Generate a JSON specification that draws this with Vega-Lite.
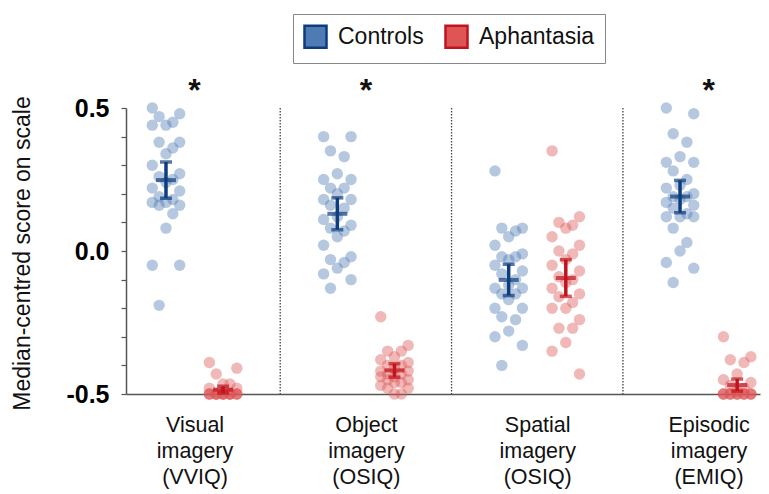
{
  "$schema": "https://vega.github.io/schema/vega-lite/v6.json",
  "width": 634,
  "height": 286,
  "autosize": "none",
  "padding": {"left": 126, "top": 108, "right": 9, "bottom": 100},
  "config": {
    "view": {"stroke": null},
    "font": "Liberation Sans",
    "axis": {"grid": false}
  },
  "resolve": {"axis": {"y": "independent"}},
  "datasets": {
    "cats": [
      {"scale": "Visual", "sig": "*"},
      {"scale": "Object", "sig": "*"},
      {"scale": "Spatial", "sig": ""},
      {"scale": "Episodic", "sig": "*"}
    ],
    "scores": [
      {"scale":"Visual","group":"Controls","score":0.50},
      {"scale":"Visual","group":"Controls","score":0.48},
      {"scale":"Visual","group":"Controls","score":0.47},
      {"scale":"Visual","group":"Controls","score":0.45},
      {"scale":"Visual","group":"Controls","score":0.44},
      {"scale":"Visual","group":"Controls","score":0.44},
      {"scale":"Visual","group":"Controls","score":0.38},
      {"scale":"Visual","group":"Controls","score":0.38},
      {"scale":"Visual","group":"Controls","score":0.36},
      {"scale":"Visual","group":"Controls","score":0.34},
      {"scale":"Visual","group":"Controls","score":0.30},
      {"scale":"Visual","group":"Controls","score":0.27},
      {"scale":"Visual","group":"Controls","score":0.26},
      {"scale":"Visual","group":"Controls","score":0.25},
      {"scale":"Visual","group":"Controls","score":0.24},
      {"scale":"Visual","group":"Controls","score":0.22},
      {"scale":"Visual","group":"Controls","score":0.21},
      {"scale":"Visual","group":"Controls","score":0.19},
      {"scale":"Visual","group":"Controls","score":0.18},
      {"scale":"Visual","group":"Controls","score":0.17},
      {"scale":"Visual","group":"Controls","score":0.17},
      {"scale":"Visual","group":"Controls","score":0.16},
      {"scale":"Visual","group":"Controls","score":0.16},
      {"scale":"Visual","group":"Controls","score":0.13},
      {"scale":"Visual","group":"Controls","score":0.08},
      {"scale":"Visual","group":"Controls","score":-0.05},
      {"scale":"Visual","group":"Controls","score":-0.05},
      {"scale":"Visual","group":"Controls","score":-0.19},
      {"scale":"Visual","group":"Aphantasia","score":-0.39},
      {"scale":"Visual","group":"Aphantasia","score":-0.41},
      {"scale":"Visual","group":"Aphantasia","score":-0.43},
      {"scale":"Visual","group":"Aphantasia","score":-0.465},
      {"scale":"Visual","group":"Aphantasia","score":-0.465},
      {"scale":"Visual","group":"Aphantasia","score":-0.48},
      {"scale":"Visual","group":"Aphantasia","score":-0.48},
      {"scale":"Visual","group":"Aphantasia","score":-0.50},
      {"scale":"Visual","group":"Aphantasia","score":-0.50},
      {"scale":"Visual","group":"Aphantasia","score":-0.50},
      {"scale":"Visual","group":"Aphantasia","score":-0.50},
      {"scale":"Visual","group":"Aphantasia","score":-0.50},
      {"scale":"Visual","group":"Aphantasia","score":-0.50},
      {"scale":"Visual","group":"Aphantasia","score":-0.50},
      {"scale":"Visual","group":"Aphantasia","score":-0.50},
      {"scale":"Visual","group":"Aphantasia","score":-0.50},
      {"scale":"Visual","group":"Aphantasia","score":-0.50},
      {"scale":"Visual","group":"Aphantasia","score":-0.50},
      {"scale":"Visual","group":"Aphantasia","score":-0.50},
      {"scale":"Visual","group":"Aphantasia","score":-0.50},
      {"scale":"Visual","group":"Aphantasia","score":-0.50},
      {"scale":"Visual","group":"Aphantasia","score":-0.50},
      {"scale":"Visual","group":"Aphantasia","score":-0.50},
      {"scale":"Visual","group":"Aphantasia","score":-0.50},
      {"scale":"Visual","group":"Aphantasia","score":-0.50},
      {"scale":"Object","group":"Controls","score":0.40},
      {"scale":"Object","group":"Controls","score":0.40},
      {"scale":"Object","group":"Controls","score":0.35},
      {"scale":"Object","group":"Controls","score":0.33},
      {"scale":"Object","group":"Controls","score":0.27},
      {"scale":"Object","group":"Controls","score":0.25},
      {"scale":"Object","group":"Controls","score":0.25},
      {"scale":"Object","group":"Controls","score":0.22},
      {"scale":"Object","group":"Controls","score":0.22},
      {"scale":"Object","group":"Controls","score":0.20},
      {"scale":"Object","group":"Controls","score":0.18},
      {"scale":"Object","group":"Controls","score":0.18},
      {"scale":"Object","group":"Controls","score":0.16},
      {"scale":"Object","group":"Controls","score":0.15},
      {"scale":"Object","group":"Controls","score":0.12},
      {"scale":"Object","group":"Controls","score":0.11},
      {"scale":"Object","group":"Controls","score":0.09},
      {"scale":"Object","group":"Controls","score":0.08},
      {"scale":"Object","group":"Controls","score":0.07},
      {"scale":"Object","group":"Controls","score":0.05},
      {"scale":"Object","group":"Controls","score":0.02},
      {"scale":"Object","group":"Controls","score":-0.02},
      {"scale":"Object","group":"Controls","score":-0.03},
      {"scale":"Object","group":"Controls","score":-0.04},
      {"scale":"Object","group":"Controls","score":-0.06},
      {"scale":"Object","group":"Controls","score":-0.08},
      {"scale":"Object","group":"Controls","score":-0.10},
      {"scale":"Object","group":"Controls","score":-0.13},
      {"scale":"Object","group":"Aphantasia","score":-0.23},
      {"scale":"Object","group":"Aphantasia","score":-0.33},
      {"scale":"Object","group":"Aphantasia","score":-0.35},
      {"scale":"Object","group":"Aphantasia","score":-0.35},
      {"scale":"Object","group":"Aphantasia","score":-0.37},
      {"scale":"Object","group":"Aphantasia","score":-0.38},
      {"scale":"Object","group":"Aphantasia","score":-0.39},
      {"scale":"Object","group":"Aphantasia","score":-0.40},
      {"scale":"Object","group":"Aphantasia","score":-0.40},
      {"scale":"Object","group":"Aphantasia","score":-0.41},
      {"scale":"Object","group":"Aphantasia","score":-0.42},
      {"scale":"Object","group":"Aphantasia","score":-0.42},
      {"scale":"Object","group":"Aphantasia","score":-0.43},
      {"scale":"Object","group":"Aphantasia","score":-0.43},
      {"scale":"Object","group":"Aphantasia","score":-0.44},
      {"scale":"Object","group":"Aphantasia","score":-0.44},
      {"scale":"Object","group":"Aphantasia","score":-0.45},
      {"scale":"Object","group":"Aphantasia","score":-0.45},
      {"scale":"Object","group":"Aphantasia","score":-0.46},
      {"scale":"Object","group":"Aphantasia","score":-0.46},
      {"scale":"Object","group":"Aphantasia","score":-0.47},
      {"scale":"Object","group":"Aphantasia","score":-0.48},
      {"scale":"Object","group":"Aphantasia","score":-0.48},
      {"scale":"Object","group":"Aphantasia","score":-0.50},
      {"scale":"Object","group":"Aphantasia","score":-0.50},
      {"scale":"Spatial","group":"Controls","score":0.28},
      {"scale":"Spatial","group":"Controls","score":0.08},
      {"scale":"Spatial","group":"Controls","score":0.08},
      {"scale":"Spatial","group":"Controls","score":0.07},
      {"scale":"Spatial","group":"Controls","score":0.05},
      {"scale":"Spatial","group":"Controls","score":0.02},
      {"scale":"Spatial","group":"Controls","score":-0.01},
      {"scale":"Spatial","group":"Controls","score":-0.02},
      {"scale":"Spatial","group":"Controls","score":-0.02},
      {"scale":"Spatial","group":"Controls","score":-0.03},
      {"scale":"Spatial","group":"Controls","score":-0.05},
      {"scale":"Spatial","group":"Controls","score":-0.07},
      {"scale":"Spatial","group":"Controls","score":-0.08},
      {"scale":"Spatial","group":"Controls","score":-0.10},
      {"scale":"Spatial","group":"Controls","score":-0.12},
      {"scale":"Spatial","group":"Controls","score":-0.13},
      {"scale":"Spatial","group":"Controls","score":-0.13},
      {"scale":"Spatial","group":"Controls","score":-0.15},
      {"scale":"Spatial","group":"Controls","score":-0.15},
      {"scale":"Spatial","group":"Controls","score":-0.17},
      {"scale":"Spatial","group":"Controls","score":-0.20},
      {"scale":"Spatial","group":"Controls","score":-0.20},
      {"scale":"Spatial","group":"Controls","score":-0.23},
      {"scale":"Spatial","group":"Controls","score":-0.24},
      {"scale":"Spatial","group":"Controls","score":-0.28},
      {"scale":"Spatial","group":"Controls","score":-0.30},
      {"scale":"Spatial","group":"Controls","score":-0.33},
      {"scale":"Spatial","group":"Controls","score":-0.40},
      {"scale":"Spatial","group":"Aphantasia","score":0.35},
      {"scale":"Spatial","group":"Aphantasia","score":0.12},
      {"scale":"Spatial","group":"Aphantasia","score":0.10},
      {"scale":"Spatial","group":"Aphantasia","score":0.09},
      {"scale":"Spatial","group":"Aphantasia","score":0.08},
      {"scale":"Spatial","group":"Aphantasia","score":0.05},
      {"scale":"Spatial","group":"Aphantasia","score":0.02},
      {"scale":"Spatial","group":"Aphantasia","score":0.00},
      {"scale":"Spatial","group":"Aphantasia","score":-0.01},
      {"scale":"Spatial","group":"Aphantasia","score":-0.03},
      {"scale":"Spatial","group":"Aphantasia","score":-0.05},
      {"scale":"Spatial","group":"Aphantasia","score":-0.07},
      {"scale":"Spatial","group":"Aphantasia","score":-0.09},
      {"scale":"Spatial","group":"Aphantasia","score":-0.10},
      {"scale":"Spatial","group":"Aphantasia","score":-0.11},
      {"scale":"Spatial","group":"Aphantasia","score":-0.13},
      {"scale":"Spatial","group":"Aphantasia","score":-0.15},
      {"scale":"Spatial","group":"Aphantasia","score":-0.16},
      {"scale":"Spatial","group":"Aphantasia","score":-0.18},
      {"scale":"Spatial","group":"Aphantasia","score":-0.20},
      {"scale":"Spatial","group":"Aphantasia","score":-0.20},
      {"scale":"Spatial","group":"Aphantasia","score":-0.24},
      {"scale":"Spatial","group":"Aphantasia","score":-0.27},
      {"scale":"Spatial","group":"Aphantasia","score":-0.27},
      {"scale":"Spatial","group":"Aphantasia","score":-0.32},
      {"scale":"Spatial","group":"Aphantasia","score":-0.35},
      {"scale":"Spatial","group":"Aphantasia","score":-0.43},
      {"scale":"Episodic","group":"Controls","score":0.50},
      {"scale":"Episodic","group":"Controls","score":0.48},
      {"scale":"Episodic","group":"Controls","score":0.41},
      {"scale":"Episodic","group":"Controls","score":0.38},
      {"scale":"Episodic","group":"Controls","score":0.33},
      {"scale":"Episodic","group":"Controls","score":0.31},
      {"scale":"Episodic","group":"Controls","score":0.31},
      {"scale":"Episodic","group":"Controls","score":0.28},
      {"scale":"Episodic","group":"Controls","score":0.25},
      {"scale":"Episodic","group":"Controls","score":0.23},
      {"scale":"Episodic","group":"Controls","score":0.22},
      {"scale":"Episodic","group":"Controls","score":0.20},
      {"scale":"Episodic","group":"Controls","score":0.19},
      {"scale":"Episodic","group":"Controls","score":0.19},
      {"scale":"Episodic","group":"Controls","score":0.18},
      {"scale":"Episodic","group":"Controls","score":0.17},
      {"scale":"Episodic","group":"Controls","score":0.16},
      {"scale":"Episodic","group":"Controls","score":0.15},
      {"scale":"Episodic","group":"Controls","score":0.13},
      {"scale":"Episodic","group":"Controls","score":0.12},
      {"scale":"Episodic","group":"Controls","score":0.12},
      {"scale":"Episodic","group":"Controls","score":0.12},
      {"scale":"Episodic","group":"Controls","score":0.08},
      {"scale":"Episodic","group":"Controls","score":0.03},
      {"scale":"Episodic","group":"Controls","score":0.00},
      {"scale":"Episodic","group":"Controls","score":-0.04},
      {"scale":"Episodic","group":"Controls","score":-0.06},
      {"scale":"Episodic","group":"Controls","score":-0.11},
      {"scale":"Episodic","group":"Aphantasia","score":-0.30},
      {"scale":"Episodic","group":"Aphantasia","score":-0.37},
      {"scale":"Episodic","group":"Aphantasia","score":-0.38},
      {"scale":"Episodic","group":"Aphantasia","score":-0.39},
      {"scale":"Episodic","group":"Aphantasia","score":-0.43},
      {"scale":"Episodic","group":"Aphantasia","score":-0.45},
      {"scale":"Episodic","group":"Aphantasia","score":-0.46},
      {"scale":"Episodic","group":"Aphantasia","score":-0.47},
      {"scale":"Episodic","group":"Aphantasia","score":-0.48},
      {"scale":"Episodic","group":"Aphantasia","score":-0.49},
      {"scale":"Episodic","group":"Aphantasia","score":-0.50},
      {"scale":"Episodic","group":"Aphantasia","score":-0.50},
      {"scale":"Episodic","group":"Aphantasia","score":-0.50},
      {"scale":"Episodic","group":"Aphantasia","score":-0.50},
      {"scale":"Episodic","group":"Aphantasia","score":-0.50},
      {"scale":"Episodic","group":"Aphantasia","score":-0.50},
      {"scale":"Episodic","group":"Aphantasia","score":-0.50},
      {"scale":"Episodic","group":"Aphantasia","score":-0.50},
      {"scale":"Episodic","group":"Aphantasia","score":-0.50},
      {"scale":"Episodic","group":"Aphantasia","score":-0.50},
      {"scale":"Episodic","group":"Aphantasia","score":-0.50},
      {"scale":"Episodic","group":"Aphantasia","score":-0.50},
      {"scale":"Episodic","group":"Aphantasia","score":-0.50},
      {"scale":"Episodic","group":"Aphantasia","score":-0.50},
      {"scale":"Episodic","group":"Aphantasia","score":-0.50}
    ]
  },
  "layer": [
    {
      "data": {"name": "cats"},
      "transform": [
        {"calculate": "indexof(['Visual','Object','Spatial','Episodic'], datum.scale)", "as": "idx"},
        {"filter": "datum.idx > 0"},
        {"calculate": "datum.idx * 3 - 1", "as": "sep"}
      ],
      "mark": {"type": "rule", "strokeDash": [1.5, 1.5], "strokeWidth": 1.3, "color": "#444"},
      "encoding": {
        "x": {"field": "sep", "type": "quantitative", "scale": {"domain": [-0.7, 10.4], "nice": false, "zero": false},
          "axis": {
            "values": [0.5, 3.5, 6.5, 9.5],
            "title": null,
            "ticks": false,
            "domainColor": "#555",
            "domainWidth": 1.5,
            "labelFontSize": 21.5,
            "labelColor": "#111",
            "labelLineHeight": 26,
            "labelPadding": 20,
            "labelBaseline": "top",
            "labelFlush": false,
            "labelOverlap": false,
            "labelBound": false,
            "labelExpr": "datum.value == 0.5 ? ['Visual','imagery','(VVIQ)'] : datum.value == 3.5 ? ['Object','imagery','(OSIQ)'] : datum.value == 6.5 ? ['Spatial','imagery','(OSIQ)'] : ['Episodic','imagery','(EMIQ)']"
          }
        },
        "y": {"datum": 0.5, "type": "quantitative",
          "scale": {"domain": [-0.5, 0.5], "nice": false, "zero": false},
          "axis": {
            "orient": "left",
            "values": [-0.5, 0, 0.5],
            "labelExpr": "datum.value > 0.45 ? '0.5' : datum.value < -0.45 ? '-0.5' : '0.0'",
            "labelOverlap": false,
            "labelFlush": false,
            "labelBound": false,
            "title": "Median-centred score on scale",
            "titleFontSize": 23,
            "titleFontWeight": "normal",
            "titleColor": "#111",
            "titleX": -104,
            "titleY": 145,
            "titleAlign": "center",
            "titleBaseline": "middle",
            "labelFontSize": 25,
            "labelFontWeight": "bold",
            "labelColor": "#000",
            "labelPadding": 12,
            "tickSize": 5,
            "tickColor": "#555",
            "tickWidth": 1.2,
            "domainColor": "#555",
            "domainWidth": 1.5
          }
        },
        "y2": {"datum": -0.5}
      }
    },
    {
      "data": {"name": "cats"},
      "transform": [
        {"filter": "datum.sig != ''"},
        {"calculate": "indexof(['Visual','Object','Spatial','Episodic'], datum.scale) * 3 + 0.5", "as": "mid"}
      ],
      "mark": {"type": "text", "fontSize": 32, "fontWeight": "bold", "baseline": "alphabetic", "align": "center", "color": "#111"},
      "encoding": {
        "x": {"field": "mid", "type": "quantitative"},
        "y": {"datum": 0.525, "type": "quantitative",
          "axis": {
            "orient": "left",
            "values": [-0.4, -0.3, -0.2, -0.1, 0.1, 0.2, 0.3, 0.4],
            "labels": false,
            "domain": false,
            "title": null,
            "offset": 0,
            "tickSize": 5,
            "tickColor": "#555",
            "tickWidth": 1.2
          }
        },
        "text": {"field": "sig"}
      }
    },
    {
      "data": {"name": "scores"},
      "transform": [
        {"window": [{"op": "row_number", "as": "rk"}], "groupby": ["scale", "group"], "sort": [{"field": "score", "order": "descending"}]},
        {"calculate": "indexof(['Visual','Object','Spatial','Episodic'], datum.scale) * 3 + (datum.group == 'Aphantasia' ? 1 : 0) + [0, -0.24, 0.24, -0.12, 0.12][datum.rk % 5]", "as": "pos"}
      ],
      "mark": {"type": "circle", "size": 130, "opacity": 0.42},
      "encoding": {
        "x": {"field": "pos", "type": "quantitative"},
        "y": {"field": "score", "type": "quantitative", "axis": null},
        "color": {
          "field": "group", "type": "nominal",
          "scale": {"domain": ["Controls", "Aphantasia"], "range": ["#4f7bb5", "#dd5555"]},
          "legend": {
            "orient": "none",
            "legendX": 167,
            "legendY": -94,
            "direction": "horizontal",
            "title": null,
            "symbolType": "square",
            "symbolSize": 484,
            "symbolStrokeWidth": 2.5,
            "symbolOpacity": 1,
            "labelFontSize": 23,
            "labelColor": "#111",
            "labelOffset": 10,
            "columnPadding": 16,
            "padding": 10,
            "strokeColor": "#888",
            "encode": {
              "symbols": {"update": {
                "fill": {"signal": "datum.value == 'Controls' ? '#6f95c4' : '#e47e7e'"},
                "stroke": {"signal": "datum.value == 'Controls' ? '#0d3b7c' : '#c0141e'"},
                "strokeWidth": {"value": 2.5},
                "opacity": {"value": 1}
              }}
            }
          }
        }
      }
    },
    {
      "data": {"name": "scores"},
      "transform": [
        {"aggregate": [{"op": "mean", "field": "score", "as": "m"}, {"op": "stderr", "field": "score", "as": "se"}], "groupby": ["scale", "group"]},
        {"calculate": "datum.m - 1.96 * datum.se", "as": "lo"},
        {"calculate": "datum.m + 1.96 * datum.se", "as": "hi"},
        {"calculate": "indexof(['Visual','Object','Spatial','Episodic'], datum.scale) * 3 + (datum.group == 'Aphantasia' ? 1 : 0)", "as": "base"}
      ],
      "layer": [
        {
          "mark": {"type": "rule", "strokeWidth": 3.5},
          "encoding": {
            "x": {"field": "base", "type": "quantitative"},
            "y": {"field": "lo", "type": "quantitative", "axis": null},
            "y2": {"field": "hi"},
            "color": {"condition": {"test": "datum.group == 'Controls'", "value": "#0e3d7e"}, "value": "#c0141e"}
          }
        },
        {
          "mark": {"type": "tick", "orient": "horizontal", "size": 12, "thickness": 3.5},
          "encoding": {
            "x": {"field": "base", "type": "quantitative"},
            "y": {"field": "lo", "type": "quantitative", "axis": null},
            "color": {"condition": {"test": "datum.group == 'Controls'", "value": "#0e3d7e"}, "value": "#c0141e"}
          }
        },
        {
          "mark": {"type": "tick", "orient": "horizontal", "size": 12, "thickness": 3.5},
          "encoding": {
            "x": {"field": "base", "type": "quantitative"},
            "y": {"field": "hi", "type": "quantitative", "axis": null},
            "color": {"condition": {"test": "datum.group == 'Controls'", "value": "#0e3d7e"}, "value": "#c0141e"}
          }
        },
        {
          "mark": {"type": "tick", "orient": "horizontal", "size": 20, "thickness": 4},
          "encoding": {
            "x": {"field": "base", "type": "quantitative"},
            "y": {"field": "m", "type": "quantitative", "axis": null},
            "color": {"condition": {"test": "datum.group == 'Controls'", "value": "#0e3d7e"}, "value": "#c0141e"}
          }
        }
      ]
    }
  ]
}
